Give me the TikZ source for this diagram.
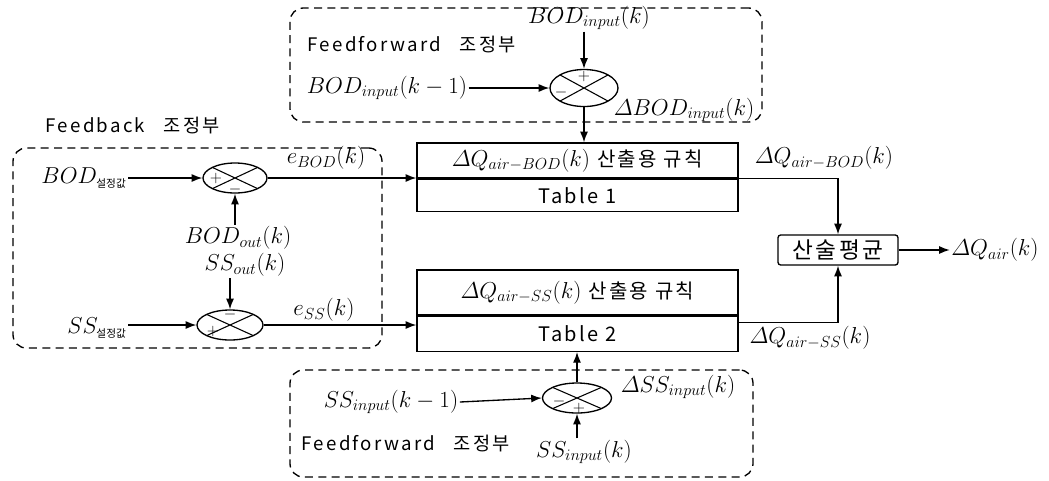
\documentclass[tikz,border=0pt]{standalone}
\usepackage{amsmath}
\usepackage{fontspec}
\newfontfamily\kr{Noto Sans CJK KR}
\newfontfamily\krw[LetterSpace=12]{Noto Sans CJK KR}
\usetikzlibrary{shapes.geometric,arrows.meta}
\tikzset{
  lbl/.style={inner sep=1pt,font=\fontsize{17}{19}\selectfont},
  krlbl/.style={inner sep=1pt,font=\krw\fontsize{14}{16}\selectfont},
  sign/.style={inner sep=0pt,font=\fontsize{12}{12}\selectfont},
  arr/.style={line width=1pt,-{Latex[length=8pt,width=6pt]}},
  dashbox/.style={draw,line width=1pt,dash pattern=on 6pt off 4pt,rounded corners=10pt,inner sep=0pt},
  sumnode/.style={ellipse,draw,line width=1pt,inner sep=0pt,
    path picture={\draw[line width=0.8pt] (path picture bounding box.north west) -- (path picture bounding box.south east)
      (path picture bounding box.north east) -- (path picture bounding box.south west);}},
  tbox/.style={draw,line width=1pt,inner sep=0pt,minimum width=240.75pt},
}
\newcommand{\krsub}[1]{\hbox{\kr\fontsize{8}{8}\selectfont #1}}
\newcommand{\rulekr}[1]{{\krw\fontsize{15}{17}\selectfont\ #1}}
\begin{document}
\begin{tikzpicture}[x=0.75pt,y=-0.75pt]
\useasboundingbox (0,0) rectangle (1049,480);
% dashed boxes
\node[dashbox,minimum width=354pt,minimum height=85.5pt] (fftop) at (526,65) {};
\node[dashbox,minimum width=276.75pt,minimum height=150pt] (fbbox) at (197.5,248) {};
\node[dashbox,minimum width=347.25pt,minimum height=80.25pt] (ffbot) at (521.5,423.5) {};
% sum nodes
\node[sumnode,minimum width=51pt,minimum height=27.75pt] (e1) at (584,88) {};
\node[sumnode,minimum width=48pt,minimum height=22.5pt] (e2) at (235,178) {};
\node[sumnode,minimum width=49.5pt,minimum height=22.5pt] (e3) at (230,325) {};
\node[sumnode,minimum width=51.75pt,minimum height=22.5pt] (e4) at (577,398) {};
% signs
\node[sign] (s1a) at (584,76) {$+$};
\node[sign] (s1b) at (561,92) {$-$};
\node[sign] (s2a) at (216,178) {$+$};
\node[sign] (s2b) at (235,189) {$-$};
\node[sign] (s3a) at (230,314) {$-$};
\node[sign] (s3b) at (213,331) {$+$};
\node[sign] (s4a) at (559,401) {$-$};
\node[sign] (s4b) at (579,408) {$+$};
% table boxes
\node[tbox,minimum height=26.25pt,font=\fontsize{17}{19}\selectfont] (r1top) at (577.5,160.5) {$\varDelta Q_{air-BOD}(k)$\rulekr{산출용 규칙}};
\node[tbox,minimum height=24pt,font=\krw\fontsize{15}{17}\selectfont,anchor=north] (r1bot) at (r1top.south) {Table 1};
\node[tbox,minimum height=33.75pt,font=\fontsize{17}{19}\selectfont] (r2top) at (577.5,292.5) {$\varDelta Q_{air-SS}(k)$\rulekr{산출용 규칙}};
\node[tbox,minimum height=26.25pt,font=\krw\fontsize{15}{17}\selectfont,anchor=north] (r2bot) at (r2top.south) {Table 2};
% average box
\node[draw,line width=1pt,rounded corners=2pt,minimum width=90pt,minimum height=22.5pt,inner sep=0pt,font=\krw\fontsize{17}{19}\selectfont] (avg) at (838,250) {산술평균};
% labels top
\node[lbl] (bodin) at (589,18) {$BOD_{input}(k)$};
\node[krlbl,anchor=west] (fftoplbl) at (306,45) {Feedforward\hspace{1em}조정부};
\node[lbl] (bodk1) at (387,88) {$BOD_{input}(k-1)$};
\node[lbl] (dbod) at (684,110) {$\varDelta BOD_{input}(k)$};
% feedback labels
\node[krlbl,anchor=west] (fblbl) at (44,126) {Feedback\hspace{1em}조정부};
\node[lbl] (bodset) at (84,178) {$BOD_{\krsub{설정값}}$};
\node[lbl] (ebod) at (326,158) {$e_{BOD}(k)$};
\node[lbl] (bodout) at (238,238) {$BOD_{out}(k)$};
\node[lbl] (ssout) at (245,265) {$SS_{out}(k)$};
\node[lbl] (ssset) at (97,328) {$SS_{\krsub{설정값}}$};
\node[lbl] (ess) at (324,310) {$e_{SS}(k)$};
% right labels
\node[lbl] (dqbod) at (824,158) {$\varDelta Q_{air-BOD}(k)$};
\node[lbl] (dqss) at (810,338) {$\varDelta Q_{air-SS}(k)$};
\node[lbl] (dqair) at (995,250) {$\varDelta Q_{air}(k)$};
% bottom labels
\node[lbl] (ssk1) at (391,402) {$SS_{input}(k-1)$};
\node[lbl] (dss) at (678,387) {$\varDelta SS_{input}(k)$};
\node[krlbl,anchor=west] (ffbotlbl) at (300,443) {Feedforward\hspace{1em}조정부};
\node[lbl] (ssin) at (584,452) {$SS_{input}(k)$};
% connectors
\draw[arr] (e1.north |- bodin.south) -- (e1.north);
\draw[arr] (bodk1.east) -- (e1.west);
\draw[arr] (e1.south) -- (e1.south |- r1top.north);
\draw[arr] (bodset.east) -- (e2.west);
\draw[arr] (e2.south |- bodout.north) -- (e2.south);
\draw[arr] (e3.north |- ssout.south) -- (e3.north);
\draw[arr] (ssset.east |- e3.west) -- (e3.west);
\draw[arr] (e2.east) -- (e2.east -| r1top.west);
\draw[arr] (e3.east) -- (e3.east -| r2bot.west);
\draw[arr] (r1top.south east) -| (avg.north);
\draw[arr] ([yshift=-5pt]r2bot.north east) -| (avg.south);
\draw[arr] (avg.east) -- (dqair.west);
\draw[arr] (ssk1.east) -- (e4.west);
\draw[arr] (e4.south |- ssin.north) -- (e4.south);
\draw[arr] (e4.north) -- (e4.north |- r2bot.south);
\end{tikzpicture}
\end{document}
